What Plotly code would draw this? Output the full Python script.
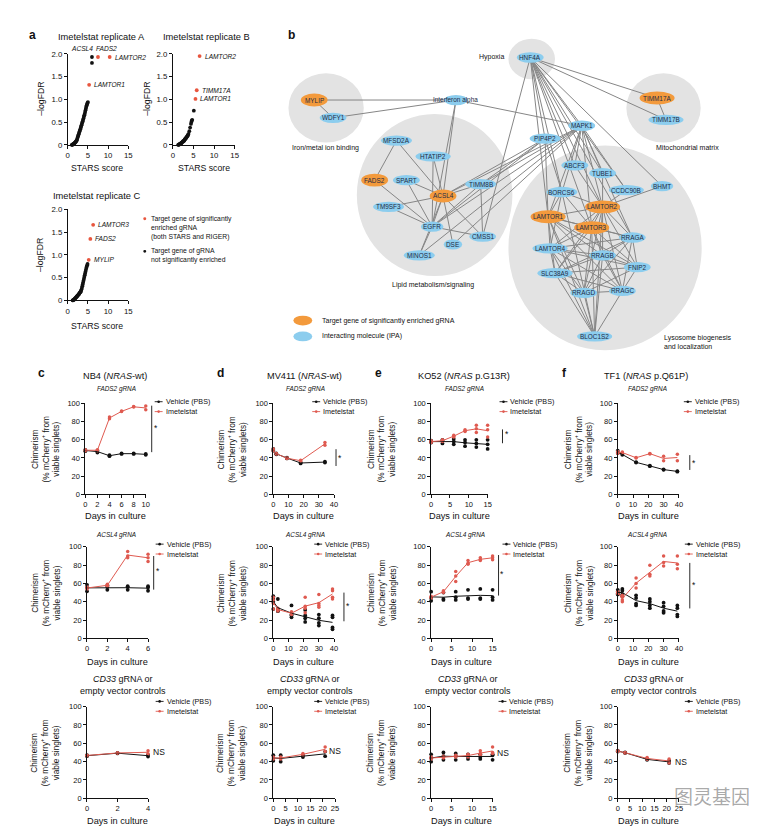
import numpy as np
import plotly.graph_objects as go

# ===================== DATA =====================
# ---- panel a : STARS score vs -logFDR ----
repA_x = [1.0, 1.1, 1.2, 1.3, 1.4, 1.5, 1.6, 1.7, 1.8, 1.9, 2.0, 2.1, 2.2, 2.3, 2.4, 2.5, 2.6, 2.7, 2.8, 2.9,
          3.0, 3.1, 3.2, 3.3, 3.4, 3.5, 3.6, 3.7, 3.8, 3.9, 4.0, 4.1, 4.2, 4.3, 4.4, 4.5, 4.6, 4.7, 4.8, 4.9, 5.0,
          6.0, 6.0]
repA_y = [0, 0, 0.01, 0.01, 0.02, 0.02, 0.03, 0.04, 0.05, 0.06, 0.07, 0.08, 0.10, 0.12, 0.15, 0.18, 0.20, 0.23,
          0.26, 0.29, 0.31, 0.34, 0.37, 0.40, 0.43, 0.46, 0.49, 0.52, 0.55, 0.58, 0.62, 0.65, 0.68, 0.72, 0.76,
          0.80, 0.84, 0.87, 0.90, 0.92, 0.94, 1.93, 1.80]
repA_hit_gene = ["FADS2", "LAMTOR2", "LAMTOR1"]
repA_hit_x = [7.5, 10.4, 5.3]
repA_hit_y = [1.93, 1.93, 1.32]

repB_x = [1.3, 1.4, 1.5, 1.6, 1.7, 1.8, 1.9, 2.0, 2.1, 2.2, 2.3, 2.4, 2.5, 2.6, 2.7, 2.8, 2.9, 3.0, 3.1, 3.2,
          3.3, 3.4, 3.5, 3.6, 3.7, 3.8, 4.0, 4.2, 4.4, 4.5, 4.6, 4.7, 5.1]
repB_y = [0, 0, 0.01, 0.01, 0.02, 0.02, 0.03, 0.03, 0.04, 0.05, 0.06, 0.07, 0.08, 0.08, 0.09, 0.10, 0.12, 0.13,
          0.14, 0.15, 0.16, 0.18, 0.19, 0.20, 0.22, 0.24, 0.30, 0.38, 0.46, 0.50, 0.53, 0.55, 0.75]
repB_hit_gene = ["LAMTOR2", "TIMM17A", "LAMTOR1"]
repB_hit_x = [6.5, 5.8, 5.5]
repB_hit_y = [1.95, 1.20, 1.01]

repC_x = [1.2, 1.3, 1.4, 1.5, 1.6, 1.7, 1.8, 1.9, 2.0, 2.1, 2.2, 2.3, 2.4, 2.5, 2.6, 2.7, 2.8, 2.9, 3.0, 3.1,
          3.2, 3.3, 3.4, 3.5, 3.6, 3.7, 3.8, 3.9, 4.0, 4.1, 4.2, 4.3, 4.4, 4.5, 4.6, 4.7, 4.8, 4.9]
repC_y = [0, 0, 0.01, 0.01, 0.02, 0.03, 0.04, 0.05, 0.06, 0.07, 0.08, 0.09, 0.10, 0.11, 0.12, 0.13, 0.14, 0.16,
          0.17, 0.18, 0.19, 0.21, 0.24, 0.27, 0.31, 0.35, 0.39, 0.43, 0.47, 0.51, 0.55, 0.59, 0.63, 0.67, 0.71,
          0.74, 0.77, 0.80]
repC_hit_gene = ["LAMTOR3", "FADS2", "MYLIP"]
repC_hit_x = [6.3, 5.6, 5.2]
repC_hit_y = [1.66, 1.35, 0.89]

# ---- panel b : network ----
net_nodes = ["HNF4A", "MYLIP", "WDFY1", "Interferon alpha", "TIMM17A", "TIMM17B", "MAPK1", "PIP4P2",
             "MFSD2A", "HTATIP2", "FADS2", "SPART", "ACSL4", "TIMM8B", "TM9SF3", "EGFR", "CMSS1", "DSE",
             "MINOS1", "ABCF3", "TUBE1", "BHMT", "BORCS6", "CCDC90B", "LAMTOR2", "LAMTOR1", "LAMTOR3",
             "RRAGA", "LAMTOR4", "RRAGB", "FNIP2", "SLC38A9", "RRAGD", "RRAGC", "BLOC1S2"]
net_x = [525, 307, 326, 450, 653, 662, 577, 540, 390, 427, 368, 400, 437, 475, 382, 426, 477, 447, 413,
         570, 598, 658, 557, 622, 598, 543, 587, 628, 545, 598, 633, 550, 579, 618, 590]
net_y = [46, 89, 107, 89, 87, 109, 115, 128, 130, 146, 170, 170, 186, 174, 197, 217, 227, 235, 246,
         155, 163, 176, 182, 180, 197, 207, 218, 228, 239, 246, 258, 264, 284, 282, 328]
net_hit = ["MYLIP", "TIMM17A", "FADS2", "ACSL4", "LAMTOR1", "LAMTOR2", "LAMTOR3"]
net_edges = {
    "MYLIP": ["WDFY1", "Interferon alpha"],
    "WDFY1": ["Interferon alpha"],
    "Interferon alpha": ["MAPK1", "ACSL4", "EGFR"],
    "TIMM17A": ["TIMM17B"],
    "HNF4A": ["TIMM17A", "TIMM17B", "MAPK1", "PIP4P2", "CMSS1", "BHMT", "ABCF3", "TUBE1", "BORCS6",
              "LAMTOR1", "LAMTOR2", "LAMTOR3", "CCDC90B", "RRAGA"],
    "MFSD2A": ["FADS2", "ACSL4"],
    "HTATIP2": ["ACSL4", "EGFR"],
    "FADS2": ["EGFR"],
    "SPART": ["EGFR", "ACSL4"],
    "TM9SF3": ["EGFR", "ACSL4"],
    "ACSL4": ["EGFR", "TIMM8B", "CMSS1", "DSE", "MINOS1"],
    "EGFR": ["CMSS1", "MINOS1", "TIMM8B"],
    "TIMM8B": ["CMSS1"],
    "MAPK1": ["ACSL4", "EGFR", "TIMM8B", "DSE", "MINOS1", "ABCF3", "TUBE1", "BORCS6", "LAMTOR1",
              "LAMTOR2", "LAMTOR3", "CCDC90B", "RRAGA"],
    "PIP4P2": ["ACSL4", "EGFR", "TIMM8B", "LAMTOR1", "BORCS6"],
    "BHMT": ["LAMTOR2"],
    "ABCF3": ["LAMTOR2"],
    "TUBE1": ["LAMTOR2"],
    "CCDC90B": ["LAMTOR2"],
    "BORCS6": ["LAMTOR1", "LAMTOR2", "LAMTOR3", "LAMTOR4", "BLOC1S2"],
    "LAMTOR1": ["LAMTOR2", "LAMTOR3", "LAMTOR4", "RRAGA", "RRAGB", "RRAGC", "RRAGD", "SLC38A9", "FNIP2",
                "BLOC1S2"],
    "LAMTOR2": ["LAMTOR3", "LAMTOR4", "RRAGA", "RRAGB", "RRAGC", "RRAGD", "SLC38A9", "FNIP2", "BLOC1S2"],
    "LAMTOR3": ["LAMTOR4", "RRAGA", "RRAGB", "RRAGC", "RRAGD", "SLC38A9", "FNIP2", "BLOC1S2"],
    "LAMTOR4": ["RRAGA", "RRAGB", "RRAGC", "RRAGD", "SLC38A9", "FNIP2", "BLOC1S2"],
    "RRAGA": ["RRAGB", "RRAGC", "RRAGD", "FNIP2", "SLC38A9"],
    "RRAGB": ["RRAGC", "RRAGD", "FNIP2", "SLC38A9", "BLOC1S2"],
    "RRAGC": ["RRAGD", "FNIP2", "SLC38A9", "BLOC1S2"],
    "RRAGD": ["FNIP2", "SLC38A9", "BLOC1S2"],
    "FNIP2": ["SLC38A9"],
    "SLC38A9": ["BLOC1S2"],
}

# ---- panels c-f : chimerism (% mCherry+) over days, replicates per day ----
c_fads2_days = [0, 2, 4, 6, 8, 10]
c_fads2_veh = [[49, 47.5], [48, 46], [43, 42], [45, 44.5], [45, 44.5], [44.5, 43.5]]
c_fads2_imet = [[49, 48], [49, 48], [85, 83], [91.5, 91], [96.5, 96], [97, 93]]
c_acsl4_days = [0, 2, 4, 6]
c_acsl4_veh = [[58.5, 55.5, 51.5], [58, 56, 53], [57, 56, 53], [57, 55.5, 52]]
c_acsl4_imet = [[56, 55, 54], [59, 58, 57], [95, 90, 88], [92, 88, 84]]
c_cd33_days = [0, 2, 4]
c_cd33_veh = [[47, 46], [49.5, 49], [47.5, 45.5]]
c_cd33_imet = [[47, 46.5], [49.5, 49.5], [52, 48.5]]

d_fads2_days = [0, 2, 9, 18, 34]
d_fads2_veh = [[50, 48], [45, 44], [40.5, 39.5], [35, 34], [36, 35]]
d_fads2_imet = [[50, 48], [45, 44.5], [40, 39.5], [37.5, 36.5], [57, 54]]
d_acsl4_days = [0, 3, 12, 21, 30, 39]
d_acsl4_veh = [[46, 43, 40, 32], [43, 31, 30, 30], [36, 26, 25, 23], [31, 25, 22, 18], [26, 22, 17, 14],
               [25, 23, 12, 10]]
d_acsl4_imet = [[45, 42, 38, 32], [33, 32, 31, 30], [29, 28, 27, 26], [45, 35, 33, 28], [48, 38, 36, 34],
                [54, 52, 45, 43]]
d_cd33_days = [0, 3, 12, 21]
d_cd33_veh = [[47, 41], [47, 40], [47, 45], [51, 46]]
d_cd33_imet = [[45, 43], [45, 43], [49, 47], [56, 51]]

e_fads2_days = [0, 3, 6, 9, 12, 15]
e_fads2_veh = [[58, 57, 59], [60, 56, 59], [61, 55, 58], [60, 53, 57], [60, 52, 56], [60, 50, 55]]
e_fads2_imet = [[58, 57, 59], [59, 58, 60], [65, 63, 64], [71, 69, 70], [76, 72, 68], [76, 63, 71]]
e_acsl4_days = [0, 3, 6, 9, 12, 15]
e_acsl4_veh = [[51, 44, 41], [50, 43, 42], [51, 45, 42], [53, 44, 43], [54, 44, 43], [53, 45, 42]]
e_acsl4_imet = [[46, 45, 44], [52, 51, 50], [73, 68, 62], [85, 82, 81], [88, 86, 85], [90, 88, 86]]
e_cd33_days = [0, 3, 6, 9, 12, 15]
e_cd33_veh = [[48, 44, 40], [50, 46, 42], [49, 46, 42], [48, 46, 43], [48, 45, 43], [48, 47, 42]]
e_cd33_imet = [[45, 44, 43], [46, 45, 44], [47, 46, 45], [48, 47, 45], [52, 49, 47], [56, 50, 49]]

f_fads2_days = [0, 3, 12, 21, 30, 39]
f_fads2_veh = [[48, 45.5], [44.5, 43.5], [35.5, 35], [31.5, 31], [27.5, 27], [25.5, 25]]
f_fads2_imet = [[47, 45], [46.5, 45.5], [40.5, 40], [45, 44.5], [42, 37], [44, 37]]
f_acsl4_days = [0, 3, 12, 21, 30, 39]
f_acsl4_veh = [[53, 51, 49, 48], [54, 52, 48, 46], [47, 44, 38, 36], [43, 40, 36, 33], [39, 35, 30, 28],
               [36, 33, 26, 24]]
f_acsl4_imet = [[51, 50, 49], [47, 45, 42, 40], [66, 60, 55], [80, 70, 68], [90, 83, 79], [90, 81, 76]]
f_cd33_days = [0, 3, 12, 21]
f_cd33_veh = [[52, 51], [50, 49.5], [43, 42], [41, 38.5]]
f_cd33_imet = [[52, 51], [50, 49.5], [44.5, 42.5], [43, 38.5]]

ticks_y_a = [0, 0.5, 1.0, 1.5, 2.0]
ticks_y_a_text = ["0", "0.5", "1.0", "1.5", "2.0"]
ticks_x_a = [0, 5, 10, 15]
ticks_y_ts = [0, 20, 40, 60, 80, 100]

# ===================== STYLE / LAYOUT =====================
W, H = 773, 826
FONT = "Liberation Sans"
BLACK = "#111111"
RED = "#df5a50"
ORANGE = "#f39a3c"
BLUE = "#8ccdee"
GREY_BG = "#e3e3e3"
EDGE = "#868686"
NODE_TXT = "#1d2b45"


def X(px):
    return px / W


def Y(py):
    return 1 - py / H


fig = go.Figure()
layout = {}
ann = []
shapes = []
n_ax = [0]


def axes(xpx, ypx, xr, yr, xt, yt, yticktext=None, tsize=7.5):
    n_ax[0] += 1
    n = n_ax[0]
    s = "" if n == 1 else str(n)
    common = dict(showline=True, linecolor=BLACK, linewidth=0.8, ticks="outside", ticklen=3,
                  tickwidth=0.8, tickcolor=BLACK, showgrid=False, zeroline=False, fixedrange=True,
                  tickfont=dict(family=FONT, size=tsize, color=BLACK))
    layout["xaxis" + s] = dict(common, domain=[X(xpx[0]), X(xpx[1])], range=xr, anchor="y" + s,
                               tickmode="array", tickvals=xt)
    ya = dict(common, domain=[Y(ypx[0]), Y(ypx[1])], range=yr, anchor="x" + s,
              tickmode="array", tickvals=yt)
    if yticktext is not None:
        ya["ticktext"] = yticktext
    layout["yaxis" + s] = ya
    return "x" + s, "y" + s


def txt(px, py, s, size=7, xanchor="center", yanchor="middle", color=BLACK, angle=0, family=FONT,
        align="center"):
    ann.append(dict(x=X(px), y=Y(py), xref="paper", yref="paper", text=s, showarrow=False,
                    font=dict(size=size, color=color, family=family), xanchor=xanchor,
                    yanchor=yanchor, textangle=angle, align=align))


def pline(x0, y0, x1, y1, color=BLACK, width=0.8):
    shapes.append(dict(type="line", xref="paper", yref="paper", x0=X(x0), y0=Y(y0), x1=X(x1), y1=Y(y1),
                       line=dict(color=color, width=width)))


def pdot(px, py, r, color):
    shapes.append(dict(type="circle", xref="paper", yref="paper", x0=X(px - r), x1=X(px + r),
                       y0=Y(py + r), y1=Y(py - r), fillcolor=color, line=dict(width=0)))


# ---------- panel a ----------
txt(23, 23, "<b>a</b>", size=12)


def stars_panel(xa, ya, bx, by, hx, hy, hg, label_shift):
    fig.add_trace(go.Scatter(x=bx, y=by, mode="markers", marker=dict(color=BLACK, size=3.8),
                             xaxis=xa, yaxis=ya, cliponaxis=False, hoverinfo="skip"))
    fig.add_trace(go.Scatter(x=hx, y=hy, mode="markers", marker=dict(color="#e8563f", size=3.8),
                             xaxis=xa, yaxis=ya, cliponaxis=False, hoverinfo="skip"))
    for g, x, y in zip(hg, hx, hy):
        dx, dy, anc = label_shift.get(g, (3, 0, "left"))
        ann.append(dict(x=x, y=y, xref=xa, yref=ya, text="<i>%s</i>" % g, showarrow=False,
                        xanchor=anc, yanchor="middle", xshift=dx, yshift=dy,
                        font=dict(size=6.6, color=BLACK, family=FONT)))


xa, ya = axes((58.3, 119.3), (134.3, 42.3), [0, 15], [0, 2], ticks_x_a, ticks_y_a, ticks_y_a_text, 7.8)
stars_panel(xa, ya, repA_x, repA_y, repA_hit_x, repA_hit_y, repA_hit_gene,
            {"FADS2": (9, 9, "center")})
ann.append(dict(x=6.0, y=1.93, xref=xa, yref=ya, text="<i>ACSL4</i>", showarrow=False, xanchor="center",
                yanchor="middle", xshift=-10, yshift=9, font=dict(size=6.6, color=BLACK, family=FONT)))
txt(92, 25, "Imetelstat replicate A", size=9.3)
txt(88, 158, "STARS score", size=8.7)
txt(31, 88, "–logFDR", size=8.7, angle=-90)

xa, ya = axes((164.3, 226.7), (134.3, 42.3), [0, 15], [0, 2], ticks_x_a, ticks_y_a, ticks_y_a_text, 7.8)
stars_panel(xa, ya, repB_x, repB_y, repB_hit_x, repB_hit_y, repB_hit_gene, {})
txt(198, 25, "Imetelstat replicate B", size=9.3)
txt(196, 158, "STARS score", size=8.7)
txt(138, 88, "–logFDR", size=8.7, angle=-90)

xa, ya = axes((58.3, 119.3), (291.5, 199.5), [0, 15], [0, 2], ticks_x_a, ticks_y_a, ticks_y_a_text, 7.8)
stars_panel(xa, ya, repC_x, repC_y, repC_hit_x, repC_hit_y, repC_hit_gene, {})
txt(88, 186, "Imetelstat replicate C", size=9.3)
txt(88, 317, "STARS score", size=8.7)
txt(31, 246, "–logFDR", size=8.7, angle=-90)

pdot(136, 209, 1.5, "#e8563f")
txt(140, 218, "Target gene of significantly<br>enriched gRNA<br>(both STARS and RIGER)", size=6.8,
    xanchor="left", align="left")
pdot(136, 242, 1.5, BLACK)
txt(140, 246, "Target gene of gRNA<br>not significantly enriched", size=6.8, xanchor="left", align="left")

# ---------- panel b : network ----------
txt(284, 23, "<b>b</b>", size=12)
NX, NY = "x40", "y40"
layout["xaxis40"] = dict(domain=[X(270), 1], range=[270, 773], visible=False, fixedrange=True, anchor="y40")
layout["yaxis40"] = dict(domain=[Y(345), 1], range=[345, 0], visible=False, fixedrange=True, anchor="x40")

for (x0, x1, y0, y1) in [(503, 550, 27, 68), (281, 357, 62, 132), (622, 697, 62, 132),
                         (350, 507, 103, 267), (503, 698, 135, 342)]:
    shapes.append(dict(type="circle", xref=NX, yref=NY, x0=x0, x1=x1, y0=y0, y1=y1,
                       fillcolor=GREY_BG, line=dict(width=0), layer="below"))

pos = {n: (x, y) for n, x, y in zip(net_nodes, net_x, net_y)}
ex, ey = [], []
for a, bs in net_edges.items():
    for b in bs:
        ex += [pos[a][0], pos[b][0], None]
        ey += [pos[a][1], pos[b][1], None]
fig.add_trace(go.Scatter(x=ex, y=ey, mode="lines", line=dict(color=EDGE, width=1.0),
                         xaxis=NX, yaxis=NY, hoverinfo="skip"))

for n, x, y in zip(net_nodes, net_x, net_y):
    hit = n in net_hit
    rx = 12 if n == "Interferon alpha" else 2.1 * len(n) + 3
    ry = 6.5 if hit else 5.2
    shapes.append(dict(type="circle", xref=NX, yref=NY, x0=x - rx, x1=x + rx, y0=y - ry, y1=y + ry,
                       fillcolor=ORANGE if hit else BLUE, line=dict(width=0), layer="above"))
    ann.append(dict(x=x, y=y, xref=NX, yref=NY, text=n, showarrow=False,
                    font=dict(size=6.4, color=NODE_TXT, family=FONT)))

txt(486, 46, "Hypoxia", size=7)
txt(318, 137, "Iron/metal ion binding", size=7)
txt(684, 137, "Mitochondrial matrix", size=7)
txt(427, 276, "Lipid metabolism/signaling", size=7)
txt(658, 334, "Lysosome biogenesis<br>and localization", size=7, xanchor="left", align="left")
for py, col, lab in [(312, ORANGE, "Target gene of significantly enriched gRNA"),
                     (328, BLUE, "Interacting molecule (IPA)")]:
    shapes.append(dict(type="circle", xref="paper", yref="paper", x0=X(286), x1=X(305), y0=Y(py + 5),
                       y1=Y(py - 5), fillcolor=col, line=dict(width=0)))
    txt(313, py, lab, size=7, xanchor="left")

# ---------- panels c-f ----------
cols = [
    dict(letter="c", lx=32, title="NB4 (<i>NRAS</i>-wt)", cx=106,
         xpx=[(76, 137), (77.7, 139.3), (77.7, 139.3)], yl=36,
         data=[(c_fads2_days, c_fads2_veh, c_fads2_imet, [0, 10], [0, 2, 4, 6, 8, 10]),
               (c_acsl4_days, c_acsl4_veh, c_acsl4_imet, [0, 6], [0, 2, 4, 6]),
               (c_cd33_days, c_cd33_veh, c_cd33_imet, [0, 4], [0, 2, 4])],
         leg=[146, 147, 147], sig=[(143, 398, 445, 147, 421), (145, 550, 584, 149, 565)], ns=(150, 748)),
    dict(letter="d", lx=212, title="MV411 (<i>NRAS</i>-wt)", cx=297,
         xpx=[(265.7, 327), (265.7, 327), (265.7, 328)], yl=224,
         data=[(d_fads2_days, d_fads2_veh, d_fads2_imet, [0, 40], [0, 10, 20, 30, 40]),
               (d_acsl4_days, d_acsl4_veh, d_acsl4_imet, [0, 40], [0, 10, 20, 30, 40]),
               (d_cd33_days, d_cd33_veh, d_cd33_imet, [0, 25], [0, 5, 10, 15, 20, 25])],
         leg=[305, 307, 307], sig=[(329, 442, 459, 333, 451), (337, 587, 616, 341, 601)], ns=(328, 747)),
    dict(letter="e", lx=372, title="KO52 (<i>NRAS</i> p.G13R)", cx=458,
         xpx=[(425, 482), (425, 487), (425, 487)], yl=375,
         data=[(e_fads2_days, e_fads2_veh, e_fads2_imet, [0, 15], [0, 5, 10, 15]),
               (e_acsl4_days, e_acsl4_veh, e_acsl4_imet, [0, 15], [0, 5, 10, 15]),
               (e_cd33_days, e_cd33_veh, e_cd33_imet, [0, 15], [0, 5, 10, 15])],
         leg=[494, 497, 493], sig=[(497, 422, 436, 502, 427), (493, 549, 590, 497, 568)], ns=(498, 749)),
    dict(letter="f", lx=560, title="TF1 (<i>NRAS</i> p.Q61P)", cx=642,
         xpx=[(613.3, 675), (613.3, 675), (613.3, 675)], yl=574,
         data=[(f_fads2_days, f_fads2_veh, f_fads2_imet, [0, 40], [0, 10, 20, 30, 40]),
               (f_acsl4_days, f_acsl4_veh, f_acsl4_imet, [0, 40], [0, 10, 20, 30, 40]),
               (f_cd33_days, f_cd33_veh, f_cd33_imet, [0, 25], [0, 5, 10, 15, 20, 25])],
         leg=[680, 681, 681], sig=[(686, 448, 463, 690, 456), (686, 557, 603, 690, 579)], ns=(677, 758)),
]
rows = [dict(yb=487.7, yt=395.7, sub="<i>FADS2 gRNA</i>", suby=381, subsize=6.4, legy=394, xt=510),
        dict(yb=633.3, yt=540.7, sub="<i>ACSL4 gRNA</i>", suby=529, subsize=6.4, legy=538, xt=657),
        dict(yb=795, yt=702.3, sub="<i>CD33</i> gRNA or<br>empty vector controls", suby=680, subsize=9,
             legy=697, xt=818)]

ytitle = "Chimerism<br>(% mCherry<sup>+</sup> from<br>viable singlets)"

for col in cols:
    txt(col["lx"], 365, "<b>%s</b>" % col["letter"], size=12)
    txt(col["cx"], 368, col["title"], size=9.2)
    for r, row in enumerate(rows):
        days, veh, imet, xr, xt = col["data"][r]
        xp = col["xpx"][r]
        xa, ya = axes(xp, (row["yb"], row["yt"]), xr, [0, 100], xt, ticks_y_ts, None, 7.5)
        vx = [d for d, reps in zip(days, veh) for _ in reps]
        vy = [v for reps in veh for v in reps]
        ix = [d for d, reps in zip(days, imet) for _ in reps]
        iy = [v for reps in imet for v in reps]
        fig.add_trace(go.Scatter(x=vx, y=vy, mode="markers", marker=dict(color=BLACK, size=3.8),
                                 xaxis=xa, yaxis=ya, cliponaxis=False, hoverinfo="skip"))
        fig.add_trace(go.Scatter(x=ix, y=iy, mode="markers", marker=dict(color=RED, size=3.5),
                                 xaxis=xa, yaxis=ya, cliponaxis=False, hoverinfo="skip"))
        fig.add_trace(go.Scatter(x=days, y=[float(np.mean(v)) for v in veh], mode="lines",
                                 line=dict(color=BLACK, width=1), xaxis=xa, yaxis=ya, cliponaxis=False,
                                 hoverinfo="skip"))
        fig.add_trace(go.Scatter(x=days, y=[float(np.mean(v)) for v in imet], mode="lines",
                                 line=dict(color=RED, width=1), xaxis=xa, yaxis=ya, cliponaxis=False,
                                 hoverinfo="skip"))
        cxm = (xp[0] + xp[1]) / 2
        txt(cxm + 6 if r == 2 else col["cx"] + 1, row["suby"], row["sub"], size=row["subsize"])
        txt(cxm, row["xt"], "Days in culture", size=9.2)
        txt(col["yl"], (row["yb"] + row["yt"]) / 2, ytitle, size=8.3, angle=-90)
        gx = col["leg"][r]
        for k, (c, lab) in enumerate([(BLACK, "Vehicle (PBS)"), (RED, "Imetelstat")]):
            ly = row["legy"] + 10 * k
            pline(gx, ly, gx + 8, ly, c, 0.9)
            pdot(gx + 4, ly, 1.3, c)
            txt(gx + 9, ly, lab, size=7.2, xanchor="left")
        if r < 2:
            sx, sy0, sy1, stx, sty = col["sig"][r]
            pline(sx, sy0, sx, sy1, BLACK, 0.9)
            txt(stx, sty, "*", size=8.5, xanchor="center")
        else:
            txt(col["ns"][0], col["ns"][1], "NS", size=8.5)

# watermark
txt(708, 792, "图灵基因", size=19, color="rgba(95,95,95,0.55)", family="Noto Sans CJK SC")

layout.update(dict(width=W, height=H, margin=dict(l=0, r=0, t=0, b=0), paper_bgcolor="white",
                   plot_bgcolor="white", showlegend=False, font=dict(family=FONT, size=7, color=BLACK),
                   annotations=ann, shapes=shapes))
fig.update_layout(layout)
fig.write_html("out.html")
